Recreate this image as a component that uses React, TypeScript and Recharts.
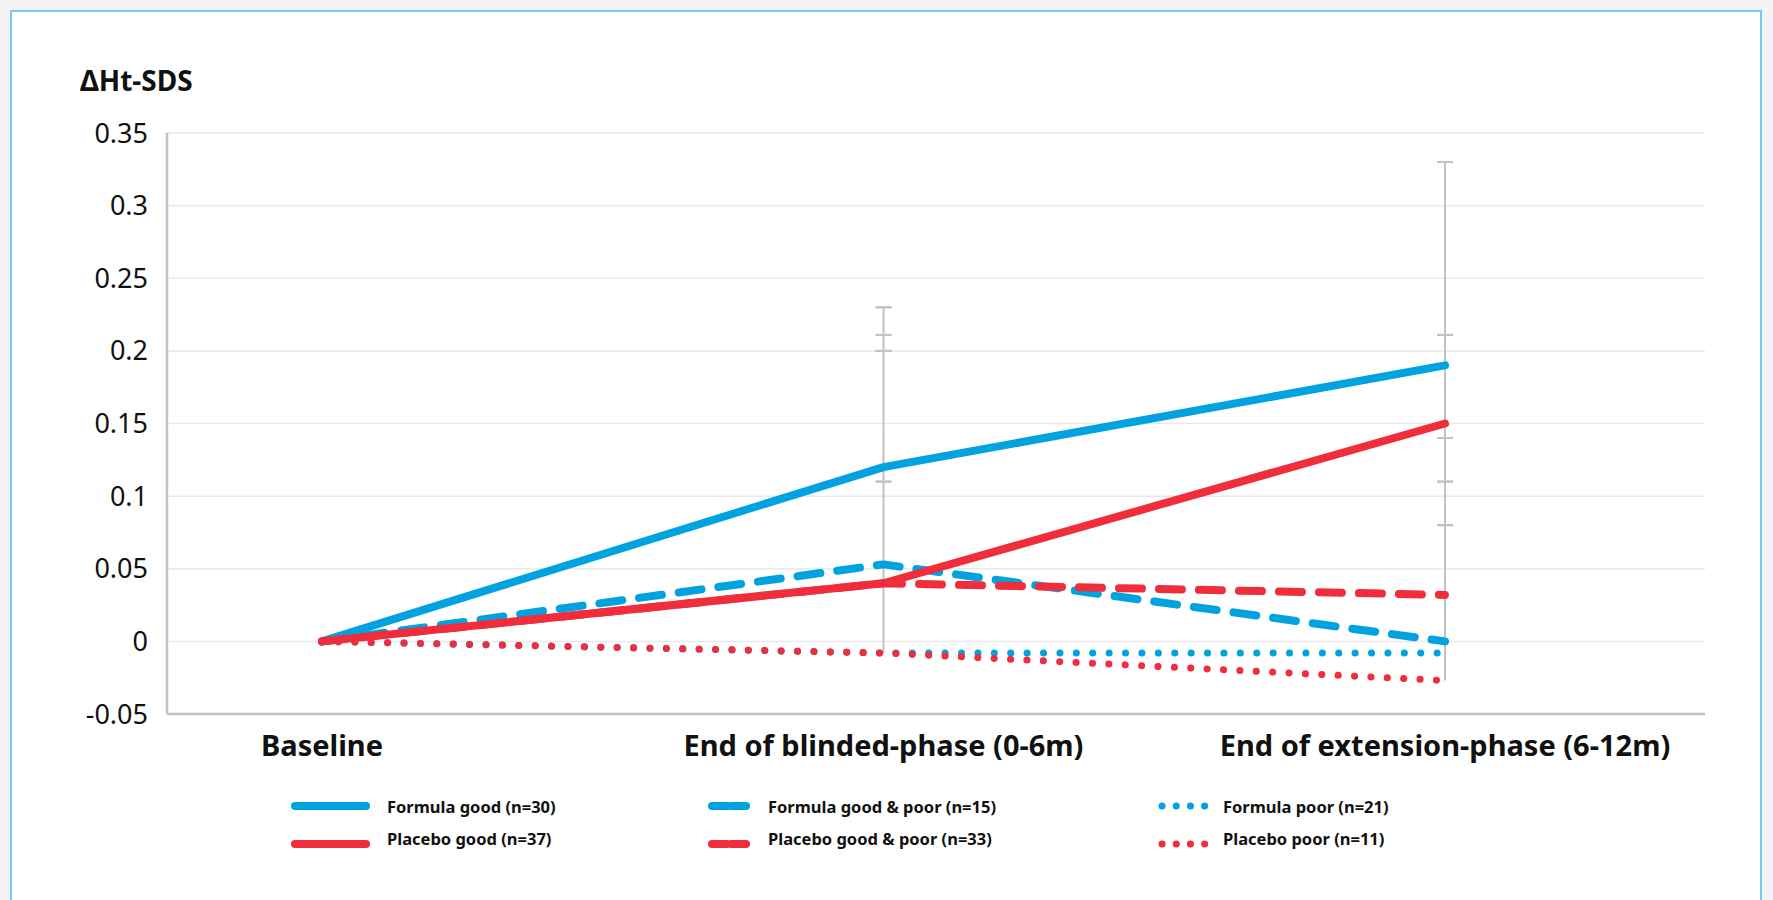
import React from 'react';
import { LineChart, Line, XAxis, YAxis, CartesianGrid, ErrorBar, Legend } from 'recharts';

const categories = ['Baseline', 'End of blinded-phase (0-6m)', 'End of extension-phase (6-12m)'];

const formulaGood = [0, 0.12, 0.19];
const formulaGoodPoor = [0, 0.053, 0];
const formulaPoor = [0, -0.008, -0.008];
const placeboGood = [0, 0.04, 0.15];
const placeboGoodPoor = [0, 0.04, 0.032];
const placeboPoor = [0, -0.008, -0.027];

// grey whiskers: stem from base to top, caps at the listed levels
const whiskerBase = [0, -0.008, -0.027];
const whiskerTop = [null, 0.23, 0.33];
const capA = [null, 0.211, 0.211];
const capB = [null, 0.2, 0.14];
const capC = [null, 0.11, 0.11];
const capD = [null, null, 0.08];

const yTicks = [-0.05, 0, 0.05, 0.1, 0.15, 0.2, 0.25, 0.3, 0.35];

const BLUE = '#00a3e0';
const RED = '#ef2d3b';
const GREY = '#c2c2c2';

const lineStyles: Record<string, { dash?: string; width: number }> = {
  solid: { width: 8 },
  dashed: { dash: '23 17', width: 8 },
  dotted: { dash: '0.1 16.3', width: 7 },
};

const series = [
  { key: 'formulaGood', name: 'Formula good (n=30)', color: BLUE, style: 'solid' },
  { key: 'formulaGoodPoor', name: 'Formula good & poor (n=15)', color: BLUE, style: 'dashed' },
  { key: 'formulaPoor', name: 'Formula poor (n=21)', color: BLUE, style: 'dotted' },
  { key: 'placeboGood', name: 'Placebo good (n=37)', color: RED, style: 'solid' },
  { key: 'placeboGoodPoor', name: 'Placebo good & poor (n=33)', color: RED, style: 'dashed' },
  { key: 'placeboPoor', name: 'Placebo poor (n=11)', color: RED, style: 'dotted' },
];

const data = categories.map((category, i) => ({
  category,
  formulaGood: formulaGood[i],
  formulaGoodPoor: formulaGoodPoor[i],
  formulaPoor: formulaPoor[i],
  placeboGood: placeboGood[i],
  placeboGoodPoor: placeboGoodPoor[i],
  placeboPoor: placeboPoor[i],
  whiskerBase: whiskerBase[i],
  whiskerTop: whiskerTop[i],
  capA: capA[i],
  capB: capB[i],
  capC: capC[i],
  capD: capD[i],
}));

const stemKey = (d: any) => (d.whiskerTop == null ? null : [0, d.whiskerTop - d.whiskerBase]);
const capKey = (k: string) => (d: any) => (d[k] == null ? null : [d.whiskerBase - d[k], d[k] - d.whiskerBase]);

const font = '"Noto Sans", "Open Sans", sans-serif';

const LegendSample = ({ color, style }: { color: string; style: string }) => {
  if (style === 'solid') {
    return (
      <svg width={79} height={12}>
        <line x1={4} y1={6} x2={75} y2={6} stroke={color} strokeWidth={8} strokeLinecap="round" />
      </svg>
    );
  }
  if (style === 'dashed') {
    return (
      <svg width={42} height={12}>
        <line x1={4} y1={6} x2={38} y2={6} stroke={color} strokeWidth={8} strokeLinecap="round" strokeDasharray="15 4" />
      </svg>
    );
  }
  return (
    <svg width={50} height={12}>
      <line x1={4} y1={6} x2={47} y2={6} stroke={color} strokeWidth={7} strokeLinecap="round" strokeDasharray="0.1 14.1" />
    </svg>
  );
};

const gaps: Record<string, number> = { solid: 17, dashed: 18, dotted: 15 };

const CustomLegend = () => (
  <div
    style={{
      display: 'grid',
      gridTemplateColumns: '417px 450px 300px',
      gridAutoRows: '32px',
      paddingLeft: 291,
      fontFamily: font,
      fontWeight: 700,
      fontSize: 16.5,
      color: '#111',
    }}
  >
    {series.map((s, i) => (
      <div key={s.key} style={{ display: 'flex', alignItems: 'center', gap: gaps[s.style] }}>
        <div style={{ display: 'flex', transform: i >= 3 ? 'translateY(6px)' : undefined }}>
          <LegendSample color={s.color} style={s.style} />
        </div>
        <span>{s.name}</span>
      </div>
    ))}
  </div>
);

export default function App() {
  return (
    <div style={{ position: 'absolute', left: 0, top: 0, width: 1773, height: 900, background: '#f4f4f4', overflow: 'hidden' }}>
      <div
        style={{
          position: 'absolute',
          left: 10,
          top: 10,
          width: 1748,
          height: 1000,
          background: '#fff',
          border: '2px solid #74cdef',
        }}
      />
      <div
        style={{
          position: 'absolute',
          left: 80,
          top: 60,
          fontFamily: font,
          fontWeight: 700,
          fontSize: 28,
          lineHeight: '40px',
          color: '#111',
        }}
      >
        ΔHt-SDS
      </div>
      <div style={{ position: 'absolute', left: 0, top: 0 }}>
        <LineChart width={1773} height={900} data={data} margin={{ top: 133, right: 68, bottom: 146, left: 107 }}>
          <CartesianGrid vertical={false} stroke="#e9e9e9" strokeWidth={1.5} />
          <XAxis
            dataKey="category"
            padding={{ left: 155, right: 260 }}
            axisLine={{ stroke: GREY, strokeWidth: 2.5 }}
            tickLine={false}
            tickSize={0}
            tickMargin={21}
            height={40}
            interval={0}
            tick={{ fill: '#111', fontSize: 29, fontWeight: 700, fontFamily: font }}
          />
          <YAxis
            type="number"
            domain={[-0.05, 0.35]}
            ticks={yTicks}
            allowDataOverflow
            interval={0}
            width={60}
            axisLine={{ stroke: GREY, strokeWidth: 2.5 }}
            tickLine={false}
            tickSize={0}
            tickMargin={19}
            tick={{ fill: '#111', fontSize: 27, fontFamily: font }}
          />
          <Line
            dataKey="whiskerBase"
            stroke="transparent"
            dot={false}
            activeDot={false}
            legendType="none"
            isAnimationActive={false}
          >
            <ErrorBar dataKey={stemKey} width={0} stroke={GREY} strokeWidth={2} isAnimationActive={false} />
            <ErrorBar dataKey={capKey('whiskerTop')} width={8} stroke={GREY} strokeWidth={2} isAnimationActive={false} />
            <ErrorBar dataKey={capKey('capA')} width={8} stroke={GREY} strokeWidth={2} isAnimationActive={false} />
            <ErrorBar dataKey={capKey('capB')} width={8} stroke={GREY} strokeWidth={2} isAnimationActive={false} />
            <ErrorBar dataKey={capKey('capC')} width={8} stroke={GREY} strokeWidth={2} isAnimationActive={false} />
            <ErrorBar dataKey={capKey('capD')} width={8} stroke={GREY} strokeWidth={2} isAnimationActive={false} />
          </Line>
          {series.map((s) => (
            <Line
              key={s.key}
              dataKey={s.key}
              name={s.name}
              stroke={s.color}
              strokeWidth={lineStyles[s.style].width}
              strokeDasharray={lineStyles[s.style].dash}
              strokeLinecap="round"
              strokeLinejoin="round"
              dot={false}
              activeDot={false}
              isAnimationActive={false}
            />
          ))}
          <Legend
            layout="horizontal"
            align="center"
            verticalAlign="middle"
            content={() => <CustomLegend />}
            wrapperStyle={{ position: 'absolute', top: 790, left: 0, width: 1773 }}
          />
        </LineChart>
      </div>
    </div>
  );
}
